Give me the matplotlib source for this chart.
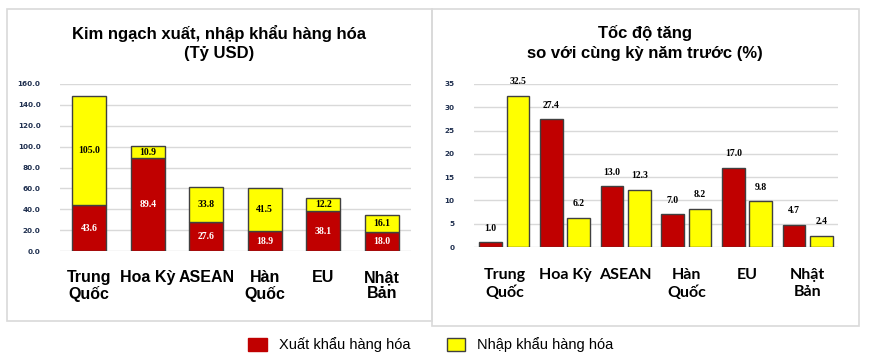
import matplotlib
matplotlib.use('Agg')
import matplotlib.pyplot as plt
import numpy as np
from matplotlib.patches import Patch, Rectangle

# data
categories = ['Trung\nQuốc', 'Hoa Kỳ', 'ASEAN', 'Hàn\nQuốc', 'EU', 'Nhật\nBản']
export_value = [43.6, 89.4, 27.6, 18.9, 38.1, 18.0]
import_value = [105.0, 10.9, 33.8, 41.5, 12.2, 16.1]
export_growth = [1.0, 27.4, 13.0, 7.0, 17.0, 4.7]
import_growth = [32.5, 6.2, 12.3, 8.2, 9.8, 2.4]
left_ticks = [0, 20, 40, 60, 80, 100, 120, 140, 160]
right_ticks = [0, 5, 10, 15, 20, 25, 30, 35]

RED = '#C00000'
YELLOW = '#FFFF00'
EDGE = '#404040'
GRID = '#D9D9D9'
W, H = 873, 356

plt.rcParams['font.family'] = ['Liberation Sans', 'DejaVu Sans']

fig = plt.figure(figsize=(W / 100, H / 100), dpi=100)
fig.patch.set_facecolor('white')


def px_box(x0, y0, x1, y1):
    return [x0 / W, 1 - y1 / H, (x1 - x0) / W, (y1 - y0) / H]


# panel frames
for x0, y0, x1, y1 in [(7, 9, 432, 321), (432, 9, 859, 326)]:
    fig.patches.append(Rectangle((x0 / W, 1 - y1 / H), (x1 - x0) / W, (y1 - y0) / H,
                                 transform=fig.transFigure, facecolor='none',
                                 edgecolor=GRID, linewidth=1.2, zorder=-1))


def style_axes(ax, ticks, fmt, label_font, pad, spacing):
    for s in ax.spines.values():
        s.set_visible(False)
    ax.set_yticks(ticks)
    ax.set_yticklabels([fmt.format(t) for t in ticks], fontsize=5.2,
                       fontweight='bold', color='#1F2F4F', family='DejaVu Sans')
    ax.tick_params(axis='both', length=0)
    ax.tick_params(axis='y', pad=14)
    ax.yaxis.grid(True, color=GRID, linewidth=1)
    ax.set_axisbelow(True)
    ax.set_xticks(np.arange(len(categories)))
    ax.set_xticklabels(categories, fontsize=11.5, fontweight='bold',
                       family=label_font, linespacing=spacing,
                       multialignment='center')
    ax.tick_params(axis='x', pad=pad)
    ax.set_xlim(-0.5, len(categories) - 0.5)
    ax.patch.set_alpha(0)


# left: stacked values
ax1 = fig.add_axes(px_box(60, 84, 411, 251))
x = np.arange(len(categories))
ax1.bar(x, export_value, width=0.58, color=RED, edgecolor=EDGE, linewidth=1)
ax1.bar(x, import_value, width=0.58, bottom=export_value, color=YELLOW,
        edgecolor=EDGE, linewidth=1)
ax1.set_ylim(0, 160)
style_axes(ax1, left_ticks, '{:.1f}', ['Liberation Sans', 'DejaVu Sans'], 14, 1.05)
for xi, e, i in zip(x, export_value, import_value):
    ax1.text(xi, e / 2, f'{e:.1f}', ha='center', va='center', color='white',
             fontsize=7, fontweight='bold', family='Liberation Serif')
    ax1.text(xi, e + i / 2, f'{i:.1f}', ha='center', va='center', color='black',
             fontsize=7, fontweight='bold', family='Liberation Serif')

# right: grouped growth rates
ax2 = fig.add_axes(px_box(474, 84, 838, 247))
bw = 0.37
ax2.bar(x - 0.225, export_growth, width=bw, color=RED, edgecolor=EDGE, linewidth=1)
ax2.bar(x + 0.225, import_growth, width=bw, color=YELLOW, edgecolor=EDGE, linewidth=1)
ax2.set_ylim(0, 35)
style_axes(ax2, right_ticks, '{:d}', ['Lato', 'DejaVu Sans'], 15, 1.3)
for xi, e, i in zip(x, export_growth, import_growth):
    for xx, v in [(xi - 0.225, e), (xi + 0.225, i)]:
        ax2.annotate(f'{v:.1f}', (xx, v), xytext=(0, 7), textcoords='offset points',
                     ha='center', va='bottom', fontsize=7, fontweight='bold',
                     family='Liberation Serif')

# titles
fig.text(219 / W, 1 - 43 / H, 'Kim ngạch xuất, nhập khẩu hàng hóa\n(Tỷ USD)',
         ha='center', va='center', fontsize=12, fontweight='bold', linespacing=1.35)
fig.text(645 / W, 1 - 43 / H, 'Tốc độ tăng\nso với cùng kỳ năm trước (%)',
         ha='center', va='center', fontsize=12, fontweight='bold', linespacing=1.35)

# legend
handles = [Patch(facecolor=RED, edgecolor=RED, label='Xuất khẩu hàng hóa'),
           Patch(facecolor=YELLOW, edgecolor=EDGE, label='Nhập khẩu hàng hóa')]
fig.legend(handles=handles, loc='center', bbox_to_anchor=(431 / W, 1 - 345 / H),
           ncol=2, frameon=False, fontsize=10.5, handlelength=1.25,
           handleheight=0.95, handletextpad=0.85, columnspacing=2.5)

fig.savefig('out.png', dpi=100, facecolor='white')
